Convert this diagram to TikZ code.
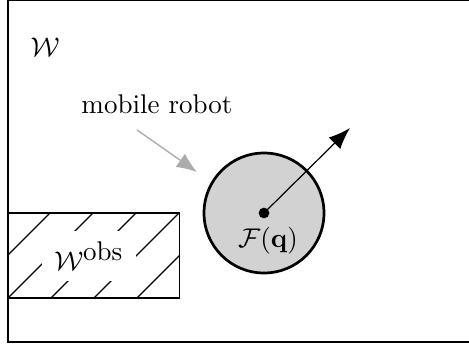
\documentclass[tikz,border=0pt]{standalone}
\usetikzlibrary{arrows.meta}
\begin{document}
\begin{tikzpicture}[x=0.37pt,y=-0.37pt,
  frame/.style={line width=0.55pt},
  hatch/.style={line width=0.5pt},
  robotdisk/.style={circle, draw, line width=1pt, fill=gray!35, minimum size=44.4pt, inner sep=0pt},
  pointer/.style={black!33, line width=0.5pt, -{Latex[length=7.5pt,width=6pt]}},
  heading/.style={line width=0.45pt, -{Latex[length=8pt,width=6pt]}}]
\clip (0,0) rectangle (469,345);
\useasboundingbox (0,0) rectangle (469,345);

% workspace border
\draw[frame] (8,0.5) rectangle (490,342);
\node (ws) at (45,47) {$\mathcal{W}$};

% obstacle region with hatching
\coordinate (o1) at (8,213);
\coordinate (o2) at (179.5,298);
\begin{scope}
  \clip (o1) rectangle (o2);
  \foreach \c in {263,306,349,392,435}
    \draw[hatch] (\c-300,300) -- (\c-200,200);
\end{scope}
\node[fill=white, inner xsep=4.5pt, inner ysep=4pt] (obs) at (89,256) {$\mathcal{W}^{\mbox{obs}}$};
\draw[hatch] (o1) rectangle (o2);

% robot
\node[robotdisk] (robot) at (264,213) {};
\node[circle, fill, inner sep=1.4pt] (ctr) at (robot.center) {};
\coordinate (tip) at (350,128);
\draw[heading] (ctr.center) -- (tip);
\node (fq) at (268,241) {$\mathcal{F}(\mathbf{q})$};

% label
\node (mr) at (157,104) {mobile robot};
\coordinate (ga) at (137,130);
\coordinate (gb) at (197,172);
\draw[pointer] (ga) -- (gb);
\end{tikzpicture}
\end{document}
